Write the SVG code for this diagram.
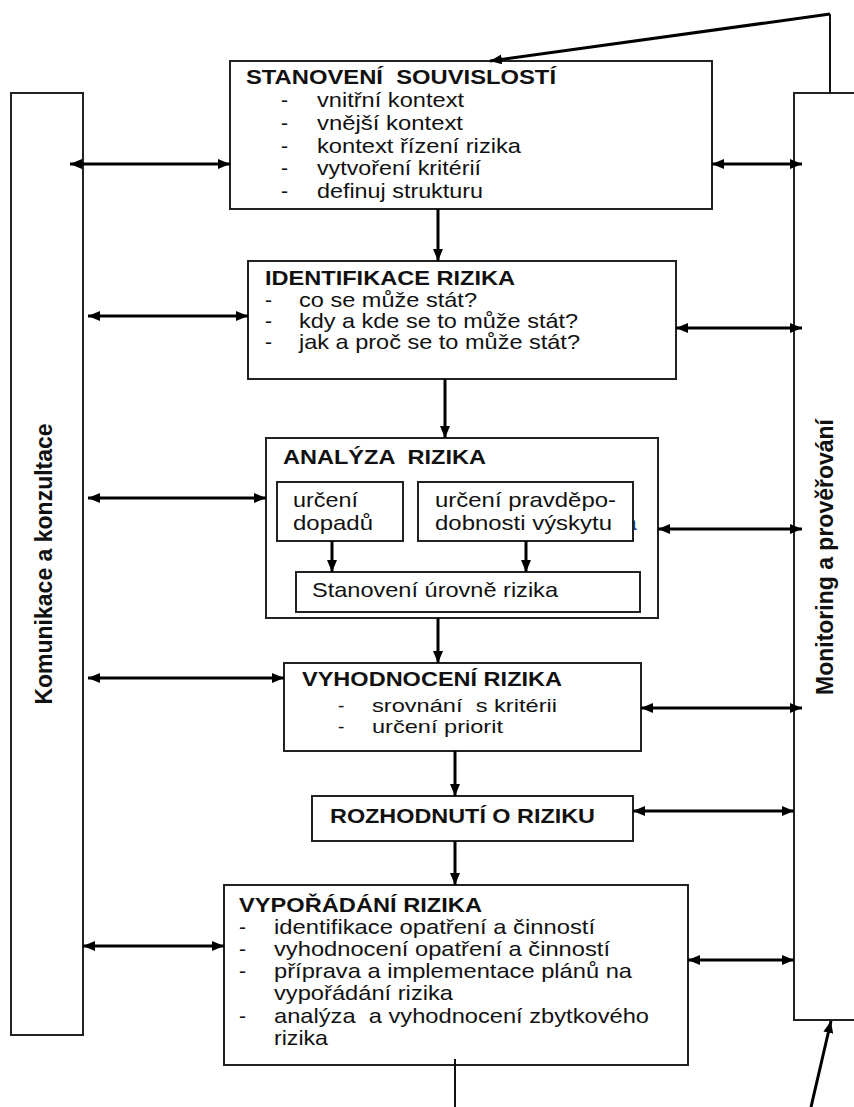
<svg xmlns="http://www.w3.org/2000/svg" width="854" height="1107" viewBox="0 0 854 1107" xml:space="preserve">
<style>
.box{fill:#fff;stroke:#222;stroke-width:2}
.t{font-family:"Liberation Sans",Arial,sans-serif;font-size:21px;fill:#111;white-space:pre}
.s{font-size:19px}
.h{font-family:"Liberation Sans",Arial,sans-serif;font-size:20px;font-weight:bold;fill:#111;white-space:pre}
.v{font-family:"Liberation Sans",Arial,sans-serif;font-size:23px;font-weight:bold;fill:#111;white-space:pre}
.c{fill:none;stroke:#000;stroke-width:3}
.thin{fill:none;stroke:#111;stroke-width:2}
.d{marker-start:url(#ah);marker-end:url(#ah)}
.e{marker-end:url(#ah)}
</style>
<defs>
<marker id="ah" markerUnits="userSpaceOnUse" markerWidth="12" markerHeight="10" refX="12" refY="5" orient="auto-start-reverse">
<path d="M0,0 L12,5 L0,10 z" fill="#000"/>
</marker>
</defs>
<rect width="854" height="1107" fill="#fff"/>

<g id="komunikace">
<rect class="box" x="11" y="93" width="72" height="942"/>
<text class="v" transform="translate(52,564) rotate(-90)" text-anchor="middle">Komunikace a konzultace</text>
</g>

<g id="monitoring">
<rect class="box" x="794" y="93" width="70" height="927"/>
<text class="v" transform="translate(833,557) rotate(-90)" text-anchor="middle">Monitoring a prověřování</text>
</g>

<g id="stanoveni">
<rect class="box" x="230" y="61" width="482" height="148"/>
<text class="h" x="246" y="84" textLength="310" lengthAdjust="spacingAndGlyphs">STANOVENÍ  SOUVISLOSTÍ</text>
<text class="t" x="281" y="107">-</text>
<text class="t" x="281" y="130">-</text>
<text class="t" x="281" y="153">-</text>
<text class="t" x="281" y="175">-</text>
<text class="t" x="281" y="198">-</text>
<text class="t" x="317" y="107" textLength="147" lengthAdjust="spacingAndGlyphs">vnitřní kontext</text>
<text class="t" x="317" y="130" textLength="146" lengthAdjust="spacingAndGlyphs">vnější kontext</text>
<text class="t" x="317" y="153" textLength="204" lengthAdjust="spacingAndGlyphs">kontext řízení rizika</text>
<text class="t" x="317" y="175" textLength="164" lengthAdjust="spacingAndGlyphs">vytvoření kritérií</text>
<text class="t" x="317" y="198" textLength="166" lengthAdjust="spacingAndGlyphs">definuj strukturu</text>
</g>

<g id="identifikace">
<rect class="box" x="248" y="261" width="428" height="118"/>
<text class="h" x="265" y="285" textLength="250" lengthAdjust="spacingAndGlyphs">IDENTIFIKACE RIZIKA</text>
<text class="t" x="265" y="307">-</text>
<text class="t" x="265" y="328">-</text>
<text class="t" x="265" y="349">-</text>
<text class="t" x="299" y="307" textLength="178" lengthAdjust="spacingAndGlyphs">co se může stát?</text>
<text class="t" x="299" y="328" textLength="279" lengthAdjust="spacingAndGlyphs">kdy a kde se to může stát?</text>
<text class="t" x="299" y="349" textLength="281" lengthAdjust="spacingAndGlyphs">jak a proč se to může stát?</text>
</g>

<g id="analyza">
<rect class="box" x="266" y="438" width="392" height="180"/>
<text class="h" x="283" y="464" textLength="203" lengthAdjust="spacingAndGlyphs">ANALÝZA  RIZIKA</text>
<text class="t" x="625" y="530" style="fill:#1a3a8c">a</text>
</g>

<g id="urceni-dopadu">
<rect class="box" x="277" y="482" width="126" height="59"/>
<text class="t" x="293" y="507" textLength="65" lengthAdjust="spacingAndGlyphs">určení</text>
<text class="t" x="293" y="530" textLength="80" lengthAdjust="spacingAndGlyphs">dopadů</text>
</g>

<g id="urceni-pravdepodobnosti">
<rect class="box" x="418" y="482" width="215" height="59"/>
<text class="t" x="435" y="507" textLength="181" lengthAdjust="spacingAndGlyphs">určení pravděpo-</text>
<text class="t" x="435" y="530" textLength="177" lengthAdjust="spacingAndGlyphs">dobnosti výskytu</text>
</g>

<g id="uroven-rizika">
<rect class="box" x="296" y="572" width="344" height="40"/>
<text class="t" x="312" y="597" textLength="246" lengthAdjust="spacingAndGlyphs">Stanovení úrovně rizika</text>
</g>

<g id="vyhodnoceni">
<rect class="box" x="284" y="663" width="357" height="88"/>
<text class="h" x="302" y="686" textLength="260" lengthAdjust="spacingAndGlyphs">VYHODNOCENÍ RIZIKA</text>
<text class="t s" x="338" y="712">-</text>
<text class="t s" x="338" y="733">-</text>
<text class="t s" x="372" y="712" textLength="185" lengthAdjust="spacingAndGlyphs">srovnání  s kritérii</text>
<text class="t s" x="372" y="733" textLength="131" lengthAdjust="spacingAndGlyphs">určení priorit</text>
</g>

<g id="rozhodnuti">
<rect class="box" x="312" y="796" width="321" height="45"/>
<text class="h" x="330" y="823" textLength="265" lengthAdjust="spacingAndGlyphs">ROZHODNUTÍ O RIZIKU</text>
</g>

<g id="vyporadani">
<rect class="box" x="224" y="885" width="464" height="180"/>
<text class="h" x="239" y="912" textLength="243" lengthAdjust="spacingAndGlyphs">VYPOŘÁDÁNÍ RIZIKA</text>
<text class="t" x="239" y="934">-</text>
<text class="t" x="239" y="956">-</text>
<text class="t" x="239" y="978">-</text>
<text class="t" x="239" y="1023">-</text>
<text class="t" x="274" y="934" textLength="321" lengthAdjust="spacingAndGlyphs">identifikace opatření a činností</text>
<text class="t" x="274" y="956" textLength="336" lengthAdjust="spacingAndGlyphs">vyhodnocení opatření a činností</text>
<text class="t" x="274" y="978" textLength="358" lengthAdjust="spacingAndGlyphs">příprava a implementace plánů na</text>
<text class="t" x="274" y="1000" textLength="179" lengthAdjust="spacingAndGlyphs">vypořádání rizika</text>
<text class="t" x="274" y="1023" textLength="375" lengthAdjust="spacingAndGlyphs">analýza  a vyhodnocení zbytkového</text>
<text class="t" x="274" y="1045" textLength="54" lengthAdjust="spacingAndGlyphs">rizika</text>
</g>

<g id="connectors">
<line class="c d" x1="70" y1="164" x2="230" y2="164"/>
<line class="c d" x1="88" y1="316" x2="248" y2="316"/>
<line class="c d" x1="88" y1="498" x2="266" y2="498"/>
<line class="c d" x1="88" y1="678" x2="284" y2="678"/>
<line class="c d" x1="83" y1="946" x2="224" y2="946"/>
<line class="c d" x1="712" y1="164" x2="802" y2="164"/>
<line class="c d" x1="676" y1="328" x2="802" y2="328"/>
<line class="c d" x1="658" y1="529" x2="802" y2="529"/>
<line class="c d" x1="641" y1="708" x2="802" y2="708"/>
<line class="c d" x1="633" y1="811" x2="794" y2="811"/>
<line class="c d" x1="688" y1="960" x2="794" y2="960"/>
<line class="c e" x1="438" y1="209" x2="438" y2="261"/>
<line class="c e" x1="445" y1="379" x2="445" y2="438"/>
<line class="c e" x1="332" y1="541" x2="332" y2="572"/>
<line class="c e" x1="526" y1="541" x2="526" y2="572"/>
<line class="c e" x1="438" y1="618" x2="438" y2="663"/>
<line class="c e" x1="455" y1="751" x2="455" y2="796"/>
<line class="c e" x1="455" y1="841" x2="455" y2="885"/>
<line class="thin" x1="455" y1="1059" x2="455" y2="1107"/>
<line class="c e" x1="811" y1="1107" x2="831" y2="1021"/>
<line class="thin" x1="830" y1="93" x2="830" y2="14"/>
<line class="c e" x1="830" y1="14" x2="490" y2="61"/>
</g>
</svg>
